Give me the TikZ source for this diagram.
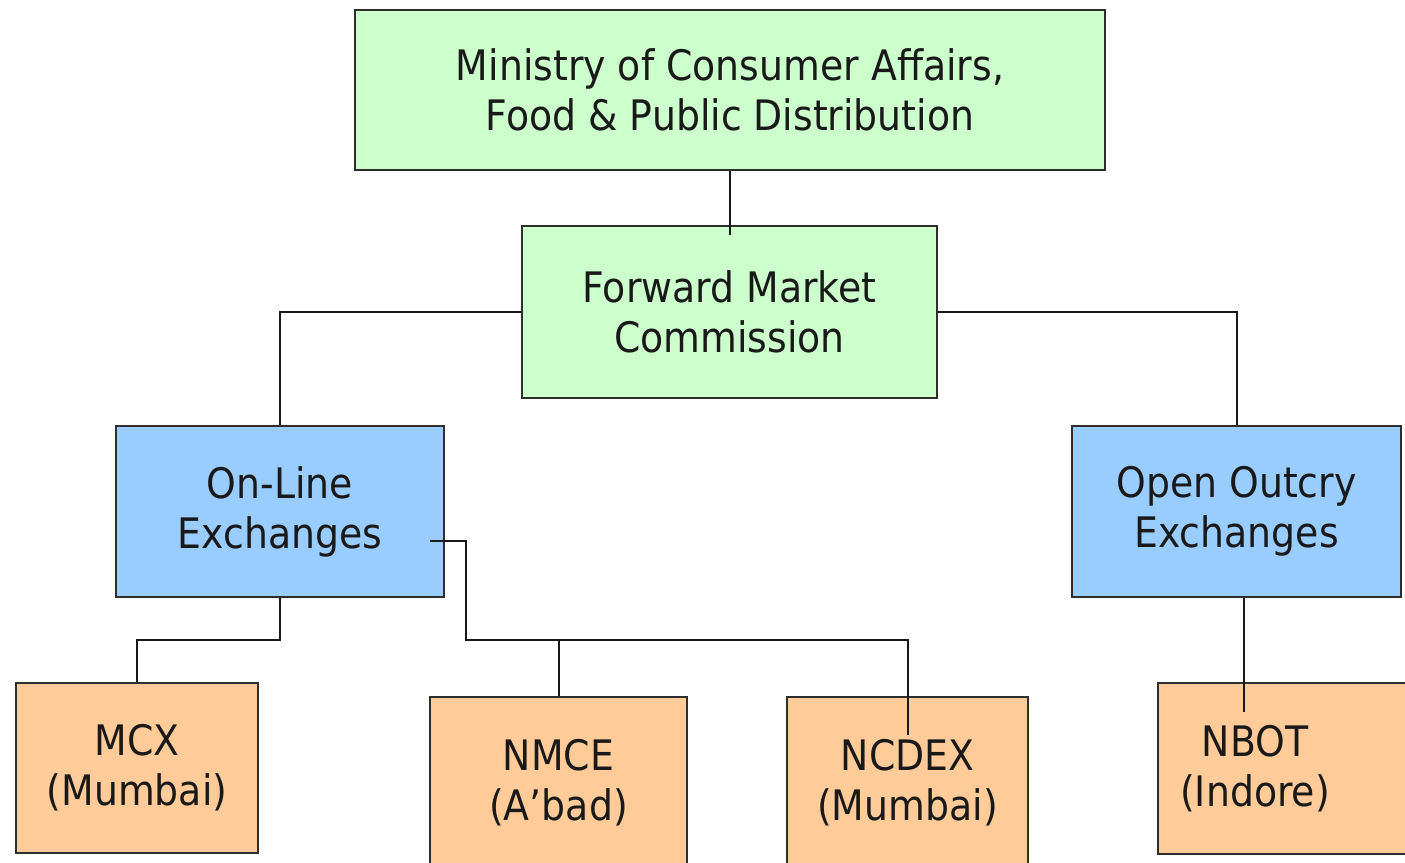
\documentclass[tikz,border=0pt]{standalone}
\usepackage{fontspec}
\newfontfamily\boxfont{DejaVu Sans}[FakeStretch=0.9]
\definecolor{ministrygreen}{HTML}{CCFFCC}
\definecolor{exchblue}{HTML}{99CCFF}
\definecolor{cityorange}{HTML}{FFCC99}
\definecolor{rimgray}{HTML}{2E2E2E}

\begin{document}
\begin{tikzpicture}[x=0.5pt,y=-0.5pt,
  orgbox/.style={rectangle,draw=rimgray,line width=1.2pt,align=center,inner sep=0pt,
    text=black!90,font=\boxfont\fontsize{21}{25}\selectfont},
  govbox/.style={orgbox,fill=ministrygreen},
  typebox/.style={orgbox,fill=exchblue},
  cityxbox/.style={orgbox,fill=cityorange},
  link/.style={-,line width=1pt,draw=black!90}]
\useasboundingbox (0,0) rectangle (1405,863);
% \draw[help lines] (0,0) grid (1405,863);
\node (min) [govbox,minimum width=375pt,minimum height=80pt] at (730,90) {Ministry of Consumer Affairs,\\Food \& Public Distribution};
\node (fmc) [govbox,minimum width=207.5pt,minimum height=86pt] at (729.5,312) {Forward Market\\Commission};
\node (online) [typebox,minimum width=164pt,minimum height=85.5pt] at (280,511.5) {On-Line\\Exchanges};
\node (outcry) [typebox,minimum width=164.5pt,minimum height=85.5pt] at (1236.5,511.5) {Open Outcry\\Exchanges};
\node (mcx) [cityxbox,minimum width=121pt,minimum height=85pt] at (137,768) {MCX\\(Mumbai)};
\node (nmce) [cityxbox,minimum width=128.5pt,minimum height=85.5pt] at (558.5,782.5) {NMCE\\(A’bad)};
\node (ncdex) [cityxbox,minimum width=120.5pt,minimum height=85.5pt] at (907.5,782.5) {NCDEX\\(Mumbai)};
\node (nbot) [cityxbox,minimum width=147pt,minimum height=85.5pt] at (1305,768.5) {NBOT\hspace{50pt}\null\\(Indore)\hspace{50pt}\null};
%
\coordinate (mintail) at (730,235);
\coordinate (olstart) at (430,541);
\coordinate (oljoin) at (466,640);
\coordinate (mcxjoin) at (280,640);
\coordinate (ncdextail) at (908,735);
\coordinate (nbottail) at (1244,712);
%
\path[link] (min.south) edge (mintail);
\draw[link] (fmc.west) -| (online.north);
\draw[link] (fmc.east) -| (outcry.north);
\draw[link] (online.south) -- (mcxjoin) -| (mcx.north);
\draw[link] (olstart) -| (oljoin) -| (ncdextail);
\path[link] (nmce.north) edge (nmce.north |- oljoin);
\path[link] (nbottail |- outcry.south) edge (nbottail);
\end{tikzpicture}
\end{document}
